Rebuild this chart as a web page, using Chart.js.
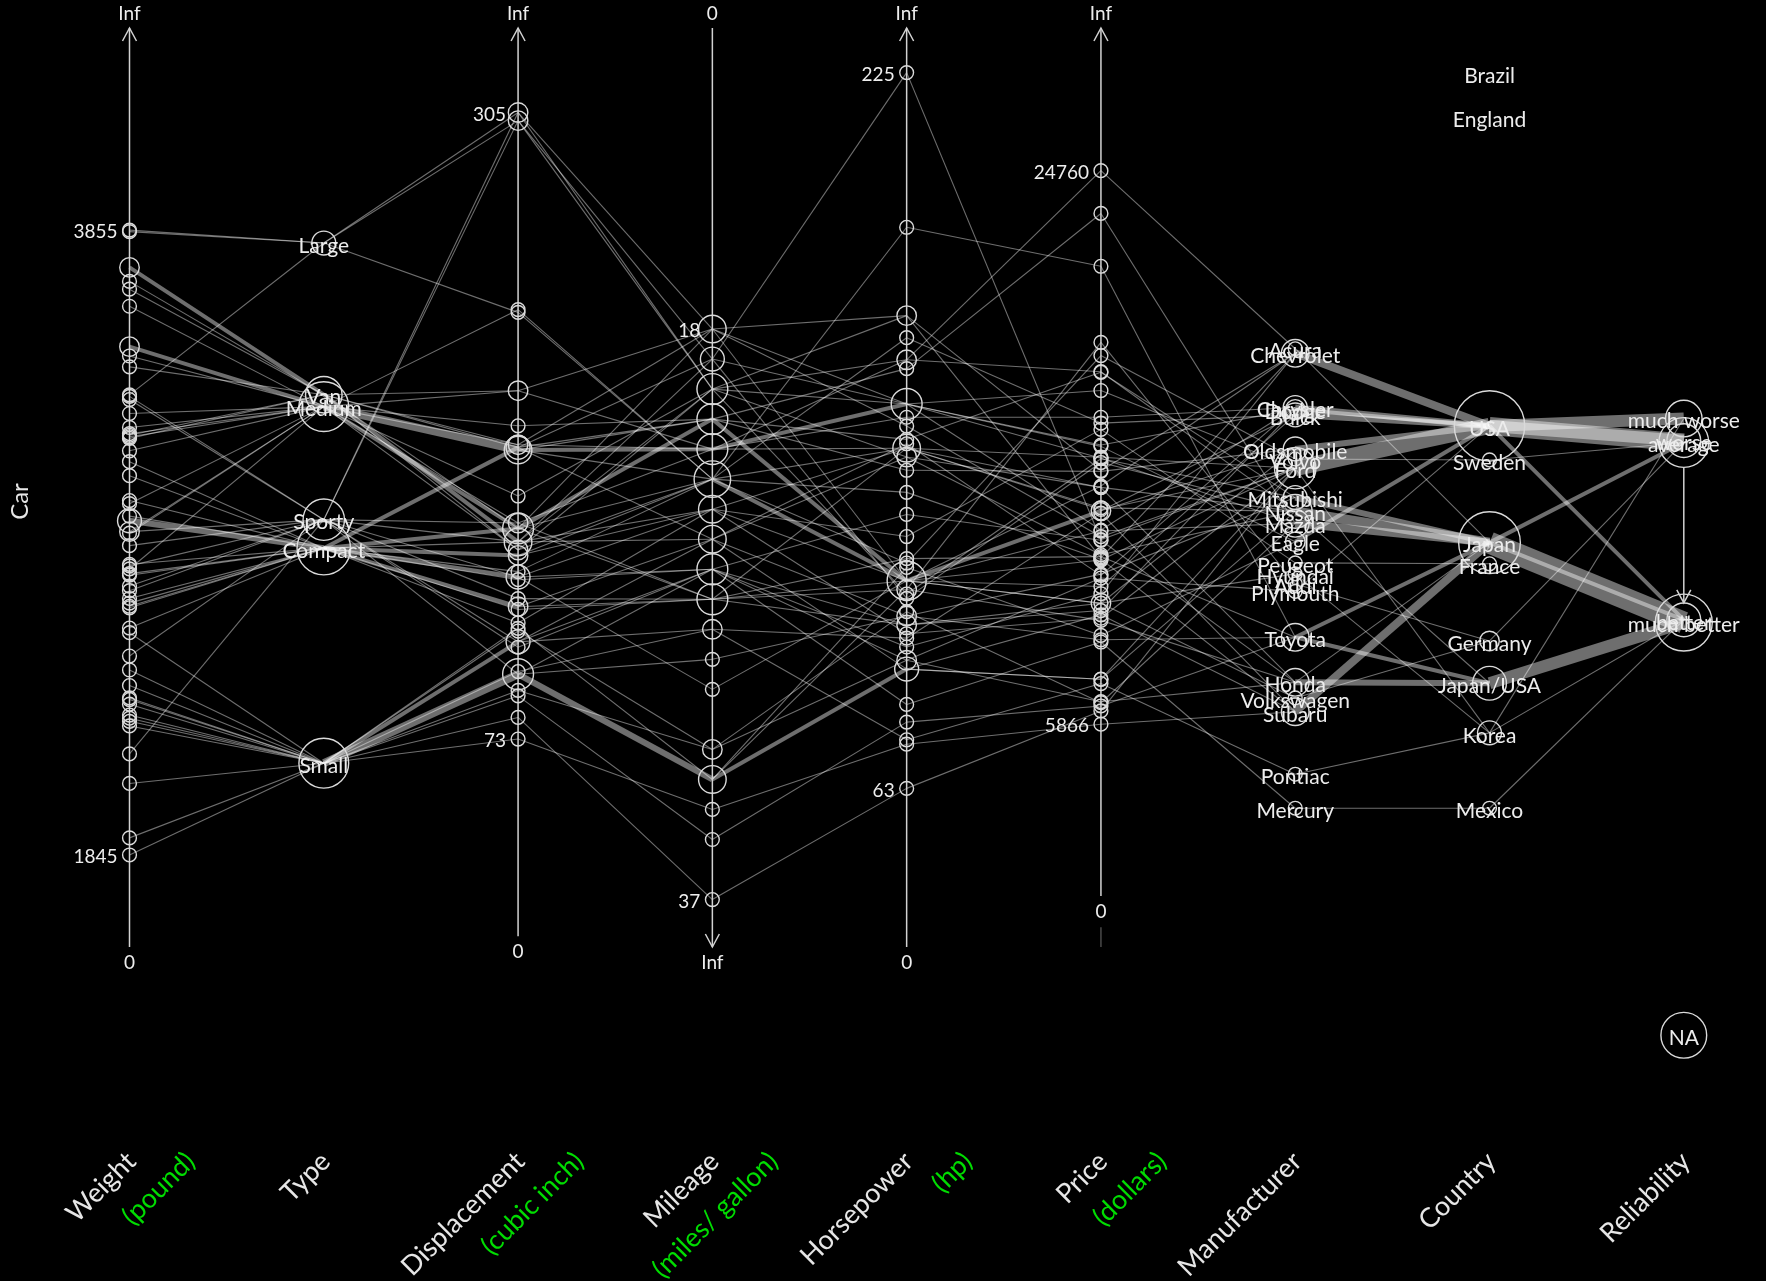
<!DOCTYPE html>
<html>
<head>
<meta charset="utf-8">
<title>Cars: parallel coordinates</title>
<script src="https://cdn.jsdelivr.net/npm/chart.js@4.4.1/dist/chart.umd.min.js"></script>
<style>
  html, body { margin: 0; padding: 0; background: #000; }
  #wrap { width: 1766px; height: 1281px; position: relative; }
</style>
</head>
<body>
<div id="wrap"><canvas id="cars"></canvas></div>
<script>
// ---------------------------------------------------------------------------
// Data: one entry per car, same order in every array
// ---------------------------------------------------------------------------
const carNames = [
  'Eagle Summit 4', 'Ford Escort 4', 'Ford Festiva 4', 'Honda Civic 4', 'Mazda Protege 4',
  'Mercury Tracer 4', 'Nissan Sentra 4', 'Pontiac LeMans 4', 'Subaru Loyale 4', 'Subaru Justy 3',
  'Toyota Corolla 4', 'Toyota Tercel 4', 'Volkswagen Jetta 4', 'Chevrolet Camaro V8', 'Dodge Daytona',
  'Ford Mustang V8', 'Ford Probe', 'Honda Civic CRX Si 4', 'Honda Prelude Si 4WS 4', 'Nissan 240SX 4',
  'Plymouth Laser', 'Subaru XT 4', 'Audi 80 4', 'Buick Skylark 4', 'Chevrolet Beretta 4',
  'Chrysler Le Baron V6', 'Ford Tempo 4', 'Honda Accord 4', 'Mazda 626 4', 'Mitsubishi Galant 4',
  'Mitsubishi Sigma V6', 'Nissan Stanza 4', 'Oldsmobile Calais 4', 'Peugeot 405 4', 'Subaru Legacy 4',
  'Toyota Camry 4', 'Volvo 240 4', 'Acura Legend V6', 'Buick Century 4', 'Chrysler Le Baron Coupe',
  'Chrysler New Yorker V6', 'Eagle Premier V6', 'Ford Taurus V6', 'Ford Thunderbird V6', 'Hyundai Sonata 4',
  'Mazda 929 V6', 'Nissan Maxima V6', 'Oldsmobile Cutlass Ciera 4', 'Oldsmobile Cutlass Supreme V6', 'Toyota Cressida 6',
  'Buick Le Sabre V6', 'Chevrolet Caprice V8', 'Ford LTD Crown Victoria V8', 'Chevrolet Lumina APV V6', 'Dodge Grand Caravan V6',
  'Ford Aerostar V6', 'Mazda MPV V6', 'Mitsubishi Wagon 4', 'Nissan Axxess 4', 'Nissan Van 4'
];

const weight = [
  2560, 2345, 1845, 2260, 2440, 2285, 2275, 2350, 2295, 1900,
  2390, 2075, 2330, 3320, 2885, 3310, 2695, 2170, 2710, 2775,
  2840, 2485, 2670, 2640, 2655, 3065, 2750, 2920, 2780, 2745,
  3110, 2920, 2645, 2575, 2935, 2920, 2985, 3265, 2880, 2975,
  3450, 3145, 3190, 3610, 2885, 3480, 3200, 2765, 3220, 3480,
  3325, 3855, 3850, 3195, 3735, 3665, 3735, 3415, 3185, 3690
];

const carType = [
  'Small', 'Small', 'Small', 'Small', 'Small', 'Small', 'Small', 'Small', 'Small', 'Small',
  'Small', 'Small', 'Small', 'Sporty', 'Sporty', 'Sporty', 'Sporty', 'Sporty', 'Sporty', 'Sporty',
  'Sporty', 'Sporty', 'Compact', 'Compact', 'Compact', 'Compact', 'Compact', 'Compact', 'Compact', 'Compact',
  'Compact', 'Compact', 'Compact', 'Compact', 'Compact', 'Compact', 'Compact', 'Medium', 'Medium', 'Medium',
  'Medium', 'Medium', 'Medium', 'Medium', 'Medium', 'Medium', 'Medium', 'Medium', 'Medium', 'Medium',
  'Large', 'Large', 'Large', 'Van', 'Van', 'Van', 'Van', 'Van', 'Van', 'Van'
];

const displacement = [
  97, 114, 81, 91, 113, 97, 97, 98, 109, 73,
  97, 89, 109, 305, 153, 302, 133, 97, 125, 146,
  107, 109, 121, 151, 133, 181, 141, 132, 133, 122,
  181, 146, 151, 116, 135, 122, 141, 163, 151, 153,
  202, 180, 182, 232, 143, 180, 180, 151, 189, 180,
  231, 305, 302, 151, 202, 182, 181, 143, 146, 146
];

const mileage = [
  33, 33, 37, 32, 32, 26, 33, 28, 25, 34,
  29, 35, 26, 20, 27, 19, 30, 33, 27, 24,
  26, 28, 27, 23, 26, 25, 24, 26, 24, 25,
  21, 25, 27, 24, 23, 27, 23, 20, 21, 22,
  22, 22, 22, 23, 23, 21, 22, 21, 21, 23,
  23, 18, 20, 18, 18, 18, 19, 20, 20, 19
];

const horsepower = [
  113, 90, 63, 92, 103, 82, 90, 74, 90, 73,
  102, 78, 100, 170, 100, 225, 110, 108, 140, 140,
  92, 97, 108, 110, 95, 141, 98, 125, 110, 102,
  142, 138, 110, 120, 130, 115, 114, 160, 110, 150,
  147, 150, 140, 140, 110, 158, 160, 110, 135, 190,
  165, 170, 150, 110, 150, 145, 150, 107, 138, 106
];

const price = [
  8895, 7402, 6319, 6635, 6599, 8672, 7399, 7254, 9599, 5866,
  8748, 6488, 9995, 11545, 9745, 12164, 11470, 9410, 13945, 13249,
  10855, 13071, 18900, 10565, 10320, 10945, 9483, 12145, 12459, 10989,
  17879, 11650, 9995, 15930, 11499, 11588, 18450, 24760, 13150, 12495,
  16342, 15350, 13195, 14980, 9999, 23300, 17899, 13150, 14495, 21498,
  16145, 14525, 17257, 13995, 15395, 12267, 14944, 14929, 13949, 14799
];

const manufacturer = [
  'Eagle', 'Ford', 'Ford', 'Honda', 'Mazda', 'Mercury', 'Nissan', 'Pontiac', 'Subaru', 'Subaru',
  'Toyota', 'Toyota', 'Volkswagen', 'Chevrolet', 'Dodge', 'Ford', 'Ford', 'Honda', 'Honda', 'Nissan',
  'Plymouth', 'Subaru', 'Audi', 'Buick', 'Chevrolet', 'Chrysler', 'Ford', 'Honda', 'Mazda', 'Mitsubishi',
  'Mitsubishi', 'Nissan', 'Oldsmobile', 'Peugeot', 'Subaru', 'Toyota', 'Volvo', 'Acura', 'Buick', 'Chrysler',
  'Chrysler', 'Eagle', 'Ford', 'Ford', 'Hyundai', 'Mazda', 'Nissan', 'Oldsmobile', 'Oldsmobile', 'Toyota',
  'Buick', 'Chevrolet', 'Ford', 'Chevrolet', 'Dodge', 'Ford', 'Mazda', 'Mitsubishi', 'Nissan', 'Nissan'
];

const country = [
  'USA', 'USA', 'Korea', 'Japan/USA', 'Japan', 'Mexico', 'Japan/USA', 'Korea', 'Japan', 'Japan',
  'Japan/USA', 'Japan', 'Germany', 'USA', 'USA', 'USA', 'USA', 'Japan/USA', 'Japan', 'Japan',
  'USA', 'Japan', 'Germany', 'USA', 'USA', 'USA', 'USA', 'Japan/USA', 'Japan', 'Japan',
  'Japan', 'Japan', 'USA', 'France', 'Japan', 'Japan/USA', 'Sweden', 'Japan', 'USA', 'USA',
  'USA', 'USA', 'USA', 'USA', 'Korea', 'Japan', 'Japan', 'USA', 'USA', 'Japan',
  'USA', 'USA', 'USA', 'USA', 'USA', 'USA', 'Japan', 'Japan', 'Japan', 'Japan'
];

// 1 = much worse ... 5 = much better, null = not rated
const reliability = [
  4, 2, 4, 5, 5, 4, 5, 1, 5, null,
  5, 5, 3, 1, 1, 1, 3, 5, 5, 3,
  null, null, null, 2, 1, 4, 3, 5, 4, 5,
  4, 5, 2, null, 5, 5, 3, 5, 3, 2,
  3, 2, 3, 1, null, 5, 5, 2, null, 3,
  3, 1, 3, null, 3, 3, 5, null, null, null
];

const typeLevels = ['Small', 'Sporty', 'Compact', 'Medium', 'Large', 'Van'];
const manufacturerLevels = [
  'Acura', 'Audi', 'Buick', 'Chevrolet', 'Chrysler', 'Dodge', 'Eagle', 'Ford', 'Honda', 'Hyundai',
  'Mazda', 'Mercury', 'Mitsubishi', 'Nissan', 'Oldsmobile', 'Peugeot', 'Plymouth', 'Pontiac', 'Subaru',
  'Toyota', 'Volkswagen', 'Volvo'
];
const countryLevels = ['Brazil', 'England', 'France', 'Germany', 'Japan', 'Japan/USA', 'Korea', 'Mexico', 'Sweden', 'USA'];
const reliabilityLevels = ['much worse', 'worse', 'average', 'better', 'much better'];

// ---------------------------------------------------------------------------
// Layout
// ---------------------------------------------------------------------------
// Value shown at the top end and at the bottom end of each numeric axis.
const axisExtent = {
  Weight: [4505, 1549],
  Displacement: [336.3, -4.0],
  Mileage: [7.975, 38.58],
  Horsepower: [235.1, 27.1],
  Price: [29631, -1739]
};

// Where each level sits on a categorical axis, as depth from the top (0 to 100).
const levelDepth = {
  Type: { Large: 23.4, Van: 39.9, Medium: 41.2, Sporty: 53.5, Compact: 56.6, Small: 80.0 },
  Manufacturer: {
    Acura: 34.9, Chevrolet: 35.4, Chrysler: 41.3, Dodge: 41.5, Buick: 42.1, Oldsmobile: 45.8,
    Volvo: 46.9, Ford: 47.9, Mitsubishi: 51.1, Nissan: 52.6, Mazda: 53.9, Eagle: 55.9,
    Peugeot: 58.2, Hyundai: 59.4, Audi: 60.5, Plymouth: 61.3, Toyota: 66.3, Honda: 71.2,
    Volkswagen: 72.9, Subaru: 74.4, Pontiac: 81.2, Mercury: 84.9
  },
  Country: {
    Brazil: 4.9, England: 9.7, USA: 43.3, Sweden: 47.0, Japan: 56.0, France: 58.3,
    Germany: 66.7, 'Japan/USA': 71.3, Korea: 76.7, Mexico: 84.9
  },
  Reliability: {
    'much worse': 42.5, worse: 44.9, average: 45.1, better: 64.4, 'much better': 64.7, NA: 109.6
  }
};

const FONT = 'Lato, "DejaVu Sans", sans-serif';
const CIRCLE_K = 6.9;                 // circle radius per sqrt(count), px
const LINE_COLOR = 'rgba(255,255,255,0.43)';
const AXIS_COLOR = '#d2d2d2';
const TEXT_COLOR = '#ededed';
const UNIT_COLOR = '#00dc00';
const DEPTH_MAX = 113.4;              // room below the axes for the unrated level

const axes = [
  { name: 'Weight', unit: '(pound)', kind: 'num', values: weight },
  { name: 'Type', kind: 'cat', values: carType, levels: typeLevels },
  { name: 'Displacement', unit: '(cubic inch)', kind: 'num', values: displacement },
  { name: 'Mileage', unit: '(miles/ gallon)', kind: 'num', values: mileage },
  { name: 'Horsepower', unit: '(hp)', kind: 'num', values: horsepower },
  { name: 'Price', unit: '(dollars)', kind: 'num', values: price },
  { name: 'Manufacturer', kind: 'cat', values: manufacturer, levels: manufacturerLevels },
  { name: 'Country', kind: 'cat', values: country, levels: countryLevels },
  {
    name: 'Reliability', kind: 'cat', ordered: true,
    values: reliability.map(r => (r == null ? 'NA' : reliabilityLevels[r - 1])),
    levels: [...reliabilityLevels, 'NA']
  }
];

function depthOf(axis, v) {
  if (axis.kind === 'num') {
    const [top, bottom] = axisExtent[axis.name];
    return (v - top) / (bottom - top) * 100;
  }
  return levelDepth[axis.name][v];
}

function countBy(values) {
  const m = new Map();
  values.forEach(v => m.set(v, (m.get(v) || 0) + 1));
  return m;
}
const axisCounts = axes.map(ax => countBy(ax.values));
const radiusFor = n => CIRCLE_K * Math.sqrt(n);
const widthFor = n => (n === 1 ? 1.1 : 2.0 * n);

// ---------------------------------------------------------------------------
// Datasets
// ---------------------------------------------------------------------------
const datasets = [];

// Connecting segments between neighbouring axes; identical segments are merged
// and drawn wider according to how many cars share them.
for (let i = 0; i < axes.length - 1; i++) {
  const a = axes[i], b = axes[i + 1];
  const shared = new Map();
  for (let c = 0; c < carNames.length; c++) {
    const va = a.values[c], vb = b.values[c];
    if (va === 'NA' || vb === 'NA') continue;
    const key = va + '|' + vb;
    if (!shared.has(key)) shared.set(key, { va, vb, n: 0 });
    shared.get(key).n++;
  }
  shared.forEach(s => {
    datasets.push({
      type: 'line',
      data: [{ x: i, y: depthOf(a, s.va) }, { x: i + 1, y: depthOf(b, s.vb) }],
      borderColor: LINE_COLOR,
      borderWidth: widthFor(s.n),
      borderCapStyle: 'butt',
      pointRadius: 0,
      tension: 0,
      fill: false,
      clip: false,
      order: 3
    });
  });
}

// Axis lines of the numeric variables, running from the open end down (or up) to zero.
axes.forEach((ax, i) => {
  if (ax.kind !== 'num') return;
  const d0 = depthOf(ax, 0);
  const [top, bottom] = axisExtent[ax.name];
  const span = top > bottom ? [0, Math.min(d0, 100)] : [Math.max(d0, 0), 100];
  datasets.push({
    type: 'line',
    data: [{ x: i, y: span[0] }, { x: i, y: span[1] }],
    borderColor: AXIS_COLOR, borderWidth: 1.5, pointRadius: 0, clip: false, order: 2
  });
  if (top > bottom && d0 + 3.4 < 100) {
    datasets.push({
      type: 'line',
      data: [{ x: i, y: d0 + 3.4 }, { x: i, y: 100 }],
      borderColor: 'rgba(210,210,210,0.35)', borderWidth: 1.5, pointRadius: 0, clip: false, order: 2
    });
  }
});

// One circle per distinct value or level, sized by the number of cars there.
axes.forEach((ax, i) => {
  const pts = [];
  axisCounts[i].forEach((n, v) => pts.push({ x: i, y: depthOf(ax, v), r: radiusFor(n) }));
  datasets.push({
    type: 'bubble',
    data: pts,
    backgroundColor: 'rgba(0,0,0,0)',
    borderColor: '#dadada',
    borderWidth: 1.4,
    clip: false,
    order: 1
  });
});

// ---------------------------------------------------------------------------
// Labels, arrows and titles
// ---------------------------------------------------------------------------
function chevron(ctx, x, y, dir) {
  ctx.beginPath();
  ctx.moveTo(x - 7, y - dir * 13);
  ctx.lineTo(x, y);
  ctx.lineTo(x + 7, y - dir * 13);
  ctx.stroke();
}

function rotatedText(ctx, text, x, y, angle, color) {
  ctx.save();
  ctx.translate(x, y);
  ctx.rotate(angle);
  ctx.fillStyle = color;
  ctx.fillText(text, 0, 0);
  ctx.restore();
}

const decor = {
  id: 'decor',
  afterDatasetsDraw(chart) {
    const { ctx } = chart;
    const sx = chart.scales.x, sy = chart.scales.y;
    const topPx = sy.getPixelForValue(0), botPx = sy.getPixelForValue(100);
    ctx.save();
    ctx.fillStyle = TEXT_COLOR;
    ctx.strokeStyle = AXIS_COLOR;
    ctx.lineWidth = 1.5;
    ctx.textBaseline = 'middle';

    axes.forEach((ax, i) => {
      const px = sx.getPixelForValue(i);
      if (ax.kind === 'num') {
        const [top, bottom] = axisExtent[ax.name];
        ctx.font = `19px ${FONT}`;
        ctx.textAlign = 'center';
        const zeroPx = sy.getPixelForValue(depthOf(ax, 0));
        if (top > bottom) {
          ctx.fillText('Inf', px, topPx - 14);
          chevron(ctx, px, topPx, -1);
          ctx.fillText('0', px, Math.min(zeroPx, botPx) + 16);
        } else {
          ctx.fillText('0', px, Math.max(zeroPx, topPx) - 14);
          ctx.fillText('Inf', px, botPx + 16);
          chevron(ctx, px, botPx, 1);
        }
        const lo = Math.min(...ax.values), hi = Math.max(...ax.values);
        ctx.textAlign = 'right';
        [lo, hi].forEach(v => ctx.fillText(String(v), px - 12, sy.getPixelForValue(depthOf(ax, v)) + 2));
      } else {
        if (ax.ordered) {
          const c = axisCounts[i];
          const y1 = sy.getPixelForValue(depthOf(ax, 'average')) + radiusFor(c.get('average'));
          const y2 = sy.getPixelForValue(depthOf(ax, 'better')) - radiusFor(c.get('better'));
          ctx.beginPath();
          ctx.moveTo(px, y1);
          ctx.lineTo(px, y2);
          ctx.stroke();
          chevron(ctx, px, y2, 1);
        }
        ctx.font = `21px ${FONT}`;
        ctx.textAlign = 'center';
        ax.levels.forEach(l => ctx.fillText(l, px, sy.getPixelForValue(depthOf(ax, l)) + 3));
      }
    });

    // Variable names (with units) under the axes
    ctx.font = `27px ${FONT}`;
    ctx.textAlign = 'right';
    const titleY = botPx + 210;
    axes.forEach((ax, i) => {
      const px = sx.getPixelForValue(i);
      rotatedText(ctx, ax.name, px + 2, titleY, -Math.PI / 4, '#e6e6e6');
      if (ax.unit) rotatedText(ctx, ax.unit, px + 61, titleY, -Math.PI / 4, UNIT_COLOR);
    });

    // Row identifier
    ctx.font = `24px ${FONT}`;
    ctx.textAlign = 'center';
    rotatedText(ctx, 'Car', 20, (topPx + botPx) / 2 + 14, -Math.PI / 2, '#e6e6e6');
    ctx.restore();
  }
};

new Chart(document.getElementById('cars'), {
  type: 'line',
  data: { datasets },
  options: {
    responsive: true,
    maintainAspectRatio: false,
    animation: false,
    devicePixelRatio: 1,
    events: [],
    layout: {
      autoPadding: false,
      padding: { left: 129.5, right: 82.2, top: 28, bottom: 1281 - 28 - 9.19 * DEPTH_MAX }
    },
    scales: {
      x: { type: 'linear', min: 0, max: 8, display: false },
      y: { type: 'linear', min: 0, max: DEPTH_MAX, reverse: true, display: false }
    },
    plugins: { legend: { display: false }, tooltip: { enabled: false } }
  },
  plugins: [
    { id: 'bg', beforeDraw(chart) { const c = chart.ctx; c.save(); c.fillStyle = '#000'; c.fillRect(0, 0, chart.width, chart.height); c.restore(); } },
    decor
  ]
});
</script>
</body>
</html>
